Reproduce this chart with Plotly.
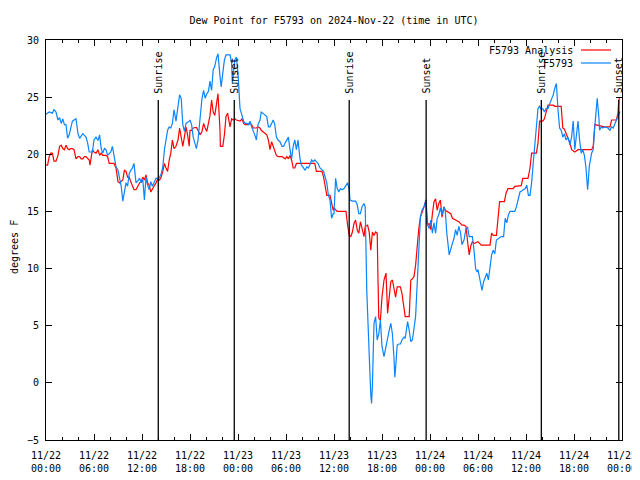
import pandas as pd
import plotly.graph_objects as go

# ---- data (hours after 2024-11-22 00:00 UTC, dew point degF) ----
obs_hours = [0,0.4,0.8,1.0,1.25,1.5,1.7,1.9,2.1,2.3,2.5,2.7,2.9,3.1,3.3,3.75,4.0,4.2,4.6,5.0,5.2,5.4,5.8,6.0,6.25,6.5,6.7,6.9,7.1,7.3,7.5,7.7,8.1,8.3,8.5,8.75,9.0,9.2,9.4,9.6,9.8,10.0,10.2,10.4,10.6,10.8,11.0,11.25,11.5,11.7,11.9,12.1,12.3,12.5,12.7,12.9,13.1,13.3,13.5,13.75,14.0,14.2,14.4,14.6,14.8,15.0,15.2,15.4,15.6,15.8,16.0,16.25,16.5,16.7,16.9,17.1,17.3,17.5,17.9,
             18.0,18.2,18.4,18.6,18.8,19.0,19.25,19.5,19.7,19.9,20.1,20.3,20.5,20.7,20.9,21.1,21.3,21.5,21.75,21.9,22.1,22.3,22.5,23.0,23.2,23.3,23.6,23.8,24.0,24.25,24.5,24.7,24.9,25.1,25.3,25.5,25.7,25.9,26.1,26.3,26.5,26.75,26.9,27.1,27.4,27.6,27.8,28.0,28.2,28.4,28.6,28.8,29.0,29.25,29.5,29.7,29.9,30.1,30.3,30.5,30.7,30.9,31.1,31.3,31.5,31.75,31.9,32.1,32.4,32.6,32.8,33.0,33.2,33.4,33.6,33.8,34.0,34.25,34.5,34.7,34.9,35.1,35.3,35.5,35.7,35.9,
             36.0,36.2,36.4,36.6,36.8,37.0,37.25,37.5,37.7,37.9,38.0,38.3,38.7,38.9,39.1,39.3,39.5,39.75,39.9,40.1,40.25,40.4,40.5,40.6,40.7,40.8,40.9,41.0,41.2,41.4,41.6,41.8,42.0,42.25,42.5,42.7,42.9,43.1,43.3,43.5,43.6,43.7,43.9,44.1,44.3,44.5,44.75,44.9,45.2,45.4,45.6,45.8,46.0,46.2,46.4,46.6,46.8,47.0,47.25,47.5,47.6,47.9,48.1,48.3,48.5,48.7,48.9,49.1,49.3,49.5,49.75,49.9,50.1,50.4,50.6,50.8,51.0,51.2,51.4,51.6,51.8,52.0,52.25,52.5,52.7,52.9,53.1,53.3,53.5,53.7,53.9,
             54.0,54.25,54.5,54.7,54.9,55.1,55.3,55.5,55.7,55.9,56.1,56.3,56.5,56.9,57.2,57.4,57.6,57.8,58.0,58.4,58.6,58.8,59.0,59.25,59.5,59.7,59.9,60.1,60.3,60.5,60.7,60.9,61.1,61.3,61.5,61.7,61.9,62.1,62.3,62.5,62.75,62.9,63.2,63.4,63.6,63.8,64.0,64.2,64.4,64.6,64.8,65.0,65.25,65.5,65.7,65.9,66.1,66.3,66.5,66.7,66.9,67.1,67.3,67.5,67.7,67.8,67.9,68.2,68.4,68.6,68.8,68.9,69.1,69.2,69.4,69.6,69.8,70.25,70.5,70.7,70.9,71.1,71.3,71.5,71.7,71.8]
obs_values = [23.5,23.7,23.6,23.9,23.7,23.0,23.2,22.7,23.1,22.6,22.6,21.4,21.7,22.3,22.9,23.1,21.8,21.4,21.8,21.5,21.0,20.2,20.2,21.25,21.5,21.2,21.7,20.5,20.1,20.5,20.4,19.9,20.2,20.7,19.8,18.9,18.6,18.0,17.2,15.9,16.6,17.5,17.2,18.3,18.6,18.8,19.2,17.5,17.7,17.9,17.5,17.8,16.0,18.0,17.3,16.9,17.6,17.2,17.5,17.9,17.9,18.0,18.3,18.9,20.4,21.4,22.1,22.4,22.3,22.7,23.9,22.9,24.5,25.2,24.9,22.6,22.0,22.7,22.9,
              23.0,22.6,21.5,21.0,20.5,21.25,23.0,24.9,25.6,24.9,25.3,25.5,26.4,25.6,27.4,27.7,28.4,28.8,26.8,25.9,27.1,28.25,28.7,28.7,28.0,26.2,28.25,28.5,27.1,24.0,23.4,22.9,22.7,22.7,22.6,22.9,22.4,22.1,21.7,21.25,22.6,23.0,23.7,23.6,23.4,23.3,22.4,22.4,22.7,23.0,22.6,21.5,21.25,21.1,20.7,20.7,21.0,21.25,21.5,20.4,19.6,20.7,21.25,20.4,21.25,19.6,19.1,18.9,18.6,18.9,18.8,19.1,19.5,19.35,19.5,19.35,19.2,18.8,18.6,18.5,18.0,17.5,16.4,16.0,14.4,14.8,
              14.8,17.9,17.0,16.7,17.0,16.9,17.0,17.3,17.5,16.9,16.0,15.9,15.9,15.6,14.8,14.8,15.4,15.7,15.4,8.0,4.5,2.4,0.7,-1.05,-1.8,-0.2,3.2,5.2,5.8,3.75,4.3,5.5,3.2,2.3,3.2,4.0,4.6,5.2,4.3,2.15,0.5,1.3,3.3,3.4,3.4,3.75,4.0,3.9,5.35,4.6,3.6,3.75,4.6,5.8,8.7,12.2,14.5,15.1,15.4,16.0,14.0,13.5,14.25,13.1,14.0,13.1,14.4,14.7,15.3,14.7,15.4,15.1,13.1,11.2,11.8,12.2,12.65,13.4,12.9,13.7,13.2,12.1,12.5,13.5,13.6,12.8,12.8,12.8,11.6,10.0,9.7,
              9.9,9.0,8.1,8.85,9.3,9.6,9.0,10.3,11.2,11.6,11.3,12.5,12.6,12.8,12.8,14.4,14.0,14.7,15.0,15.0,15.0,15.4,16.0,16.7,16.8,16.9,17.0,17.3,16.4,16.4,17.5,19.2,21.0,22.7,24.0,24.2,23.9,24.0,23.7,24.0,24.0,24.3,24.75,25.2,25.8,26.2,23.9,22.3,22.1,21.5,21.8,21.25,21.5,20.8,21.5,22.9,20.4,21.5,22.9,21.25,20.1,20.4,19.9,18.8,16.9,17.75,18.9,20.1,20.4,22.4,24.3,24.9,23.3,22.1,22.4,22.3,22.4,22.3,22.1,22.4,22.3,22.7,23.0,23.3,23.7,23.7]

ana_hours = [0,0.2,0.4,0.6,0.8,1.0,1.25,1.5,1.7,1.9,2.1,2.3,2.5,2.7,2.9,3.1,3.3,3.5,3.75,4.0,4.2,4.4,4.6,4.8,5.0,5.2,5.4,5.5,5.8,6.0,6.25,6.5,6.7,6.9,7.1,7.5,7.7,7.9,8.1,8.5,8.75,9.0,9.2,9.4,9.6,9.8,10.0,10.2,10.4,10.6,10.8,11.0,11.25,11.5,11.7,11.9,12.1,12.3,12.5,12.7,12.9,13.1,13.3,13.5,13.75,14.0,14.2,14.4,14.6,14.8,15.0,15.2,15.4,15.6,15.8,16.0,16.25,16.5,16.7,16.9,17.1,17.3,17.5,17.7,17.9,
             18.0,18.2,18.4,18.8,19.0,19.25,19.5,19.7,19.9,20.1,20.3,20.5,20.7,20.9,21.1,21.3,21.5,21.75,21.8,22.1,22.3,22.5,22.7,23.0,23.2,23.4,23.6,23.8,24.25,24.5,24.7,24.9,25.3,25.5,25.7,25.9,26.3,26.5,26.75,26.9,27.4,27.6,27.8,28.0,28.2,28.4,28.6,28.8,29.0,29.5,29.9,30.1,30.3,30.5,30.7,30.9,31.1,31.3,31.75,32.1,32.6,33.0,33.6,33.8,34.5,34.7,34.9,35.1,35.5,35.7,35.9,
             36.0,36.4,36.8,37.25,37.5,37.7,37.9,38.1,38.3,38.5,38.7,38.9,39.1,39.3,39.5,39.75,39.9,40.2,40.4,40.6,40.8,41.0,41.2,41.4,41.5,41.6,41.8,42.0,42.25,42.5,42.7,42.9,43.1,43.3,43.5,43.7,43.9,44.3,44.5,44.75,44.9,45.4,45.6,45.8,46.0,46.2,46.4,46.6,46.8,47.0,47.25,47.5,47.7,47.9,48.1,48.3,48.5,48.7,48.9,49.1,49.3,49.5,49.75,49.9,50.1,50.6,50.8,51.2,51.6,51.8,52.0,52.25,52.5,52.7,52.9,53.1,53.3,53.5,53.9,
             54.0,54.4,54.8,55.5,55.7,55.9,56.3,56.5,56.7,57.3,57.5,57.75,58.4,58.6,59.4,59.6,60.25,60.5,60.7,61.3,61.5,61.7,62.1,62.3,62.5,62.75,63.4,63.6,64.4,64.6,64.8,65.0,65.25,65.5,65.7,66.1,66.5,68.2,68.4,68.6,69.2,69.8,70.5,70.7,71.3,71.5,71.6,71.7]
ana_values = [19.05,19.05,19.8,20.1,20.1,19.4,19.4,19.9,20.7,20.8,20.5,20.4,20.8,20.5,20.4,20.5,20.5,20.4,19.6,19.8,19.8,19.6,19.6,19.8,19.8,19.6,19.5,19.05,20.4,20.2,20.1,20.4,19.9,20.1,19.9,19.9,19.8,19.2,19.2,19.2,18.8,17.6,17.5,17.6,17.75,18.6,18.5,18.0,18.0,17.6,17.3,16.9,16.9,17.2,17.5,17.6,18.0,17.75,18.2,17.5,17.3,16.7,16.9,17.2,17.5,17.9,17.75,18.0,18.5,19.2,18.8,18.5,19.5,20.1,21.25,20.5,20.7,21.25,22.3,21.5,20.7,21.5,22.4,21.7,20.7,
              22.1,22.1,22.3,22.35,22.1,21.7,22.0,22.7,22.3,22.0,22.7,23.4,24.75,23.7,23.4,24.6,25.3,22.1,20.7,20.7,21.7,23.3,23.6,22.4,23.1,23.0,23.1,23.0,22.9,23.1,22.7,22.6,22.6,22.7,22.6,22.3,22.3,22.4,22.3,22.1,21.8,21.7,21.25,20.4,21.1,20.7,20.4,19.9,19.8,19.8,19.6,19.8,19.6,19.9,19.5,18.8,18.8,19.2,19.2,19.2,19.2,19.2,19.2,18.5,18.5,18.0,17.0,16.4,16.4,15.6,15.1,
              15.3,15.0,15.0,15.0,15.0,13.8,12.9,12.8,13.2,13.95,14.25,13.4,13.1,14.1,13.5,12.8,13.7,13.8,13.2,11.6,13.2,12.9,13.2,13.1,9.0,5.65,5.5,7.5,9.0,9.6,6.1,7.25,8.85,9.0,8.1,7.5,8.4,8.4,7.8,6.4,5.8,5.8,9.0,9.1,9.3,10.3,12.2,13.5,14.5,15.0,15.4,16.0,13.8,13.95,13.4,14.8,15.85,16.1,15.1,15.7,16.0,14.5,15.4,15.1,15.0,14.8,14.4,14.25,14.1,13.95,13.8,13.8,13.7,12.35,11.2,12.0,12.35,12.2,12.35,
              12.35,12.05,12.05,12.05,13.1,12.9,12.9,14.25,15.85,15.85,16.6,17.0,17.0,17.2,17.25,17.9,17.9,18.8,20.1,20.1,21.0,22.9,22.9,23.1,23.7,24.3,24.3,24.2,24.2,22.3,22.2,21.8,21.4,21.0,20.4,20.2,20.4,20.4,20.7,22.6,22.5,22.4,22.4,23.0,23.0,23.6,24.75,24.9]

sun_times = ["2024-11-22 14:02", "2024-11-22 23:32", "2024-11-23 13:54",
             "2024-11-23 23:31", "2024-11-24 13:55", "2024-11-24 23:36"]
sun_labels = ["Sunrise", "Sunset", "Sunrise", "Sunset", "Sunrise", "Sunset"]

tick_times = pd.date_range("2024-11-22 00:00", "2024-11-25 00:00", freq="6h")
tick_text = [t.strftime("%m/%d") + "<br>" + t.strftime("%H:%M") for t in tick_times]
y_ticks = [-5, 0, 5, 10, 15, 20, 25, 30]

base = pd.Timestamp("2024-11-22 00:00")
obs_t = base + pd.to_timedelta(obs_hours, unit="h")
ana_t = base + pd.to_timedelta(ana_hours, unit="h")

FONT = "DejaVu Sans Mono"
RED = "#ff0000"
BLUE = "#0a84ff"

fig = go.Figure()
fig.add_trace(go.Scatter(x=ana_t, y=ana_values, mode="lines", name="F5793 Analysis",
                         line=dict(color=RED, width=1.2)))
fig.add_trace(go.Scatter(x=obs_t, y=obs_values, mode="lines", name="F5793",
                         line=dict(color=BLUE, width=1.2)))

shapes = []
annotations = []
for t, lab in zip(sun_times, sun_labels):
    shapes.append(dict(type="line", xref="x", yref="y", x0=t, x1=t, y0=-5, y1=24.75,
                       line=dict(color="black", width=1.3)))
    annotations.append(dict(x=t, y=25.15, xref="x", yref="y", text=lab, textangle=-90,
                            showarrow=False, xanchor="center", yanchor="bottom",
                            font=dict(family=FONT, size=10, color="black")))

# legend drawn gnuplot-style (text right, sample line after); pixel -> paper helpers
L, W, T, H = 46, 576, 40, 400
def px(xp):
    return (xp - L) / W
def py(yp):
    return (T + H - yp) / H
for name, color, ypix in [("F5793 Analysis", RED, 50), ("F5793", BLUE, 63)]:
    annotations.append(dict(x=px(575), y=py(ypix), xref="paper", yref="paper", text=name,
                            showarrow=False, xanchor="right", yanchor="middle",
                            font=dict(family=FONT, size=10, color="black")))
    shapes.append(dict(type="line", xref="paper", yref="paper", x0=px(581), x1=px(611),
                       y0=py(ypix), y1=py(ypix), line=dict(color=color, width=1.2)))

annotations.append(dict(x=px(14), y=py(247), xref="paper", yref="paper", text="degrees F",
                        textangle=-90, showarrow=False, xanchor="center", yanchor="middle",
                        font=dict(family=FONT, size=10, color="black")))

# the page body adds an 8px offset, so the figure is 632x472 with shifted margins
FIG_W, FIG_H = 632, 472
fig.update_layout(
    width=FIG_W, height=FIG_H,
    margin=dict(l=38, r=18, t=32, b=40, autoexpand=False),
    paper_bgcolor="white", plot_bgcolor="white",
    showlegend=False,
    font=dict(family=FONT, size=10, color="black"),
    title=dict(text="Dew Point for F5793 on 2024-Nov-22 (time in UTC)", x=0.5, xref="paper",
               y=1 - 12 / FIG_H, yref="container", xanchor="center", yanchor="middle",
               font=dict(family=FONT, size=10, color="black")),
    shapes=shapes, annotations=annotations,
    xaxis=dict(type="date", range=["2024-11-22 00:00", "2024-11-25 00:00"],
               tickvals=list(tick_times), ticktext=tick_text, automargin=False,
               ticks="inside", ticklen=6, tickcolor="black", tickwidth=1,
               showline=True, linecolor="black", linewidth=1, mirror="allticks",
               showgrid=False, zeroline=False, ticklabelstandoff=6,
               ticklabeloverflow="allow",
               minor=dict(dtick=2 * 3600 * 1000, ticks="inside", ticklen=3,
                          tickcolor="black", showgrid=False),
               tickfont=dict(family=FONT, size=10, color="black")),
    yaxis=dict(range=[-5, 30], tickvals=y_ticks, automargin=False,
               ticks="inside", ticklen=6, tickcolor="black", tickwidth=1,
               showline=True, linecolor="black", linewidth=1, mirror="allticks",
               showgrid=False, zeroline=False, ticklabelstandoff=4,
               tickfont=dict(family=FONT, size=10, color="black")),
)

fig.write_html("out.html")
